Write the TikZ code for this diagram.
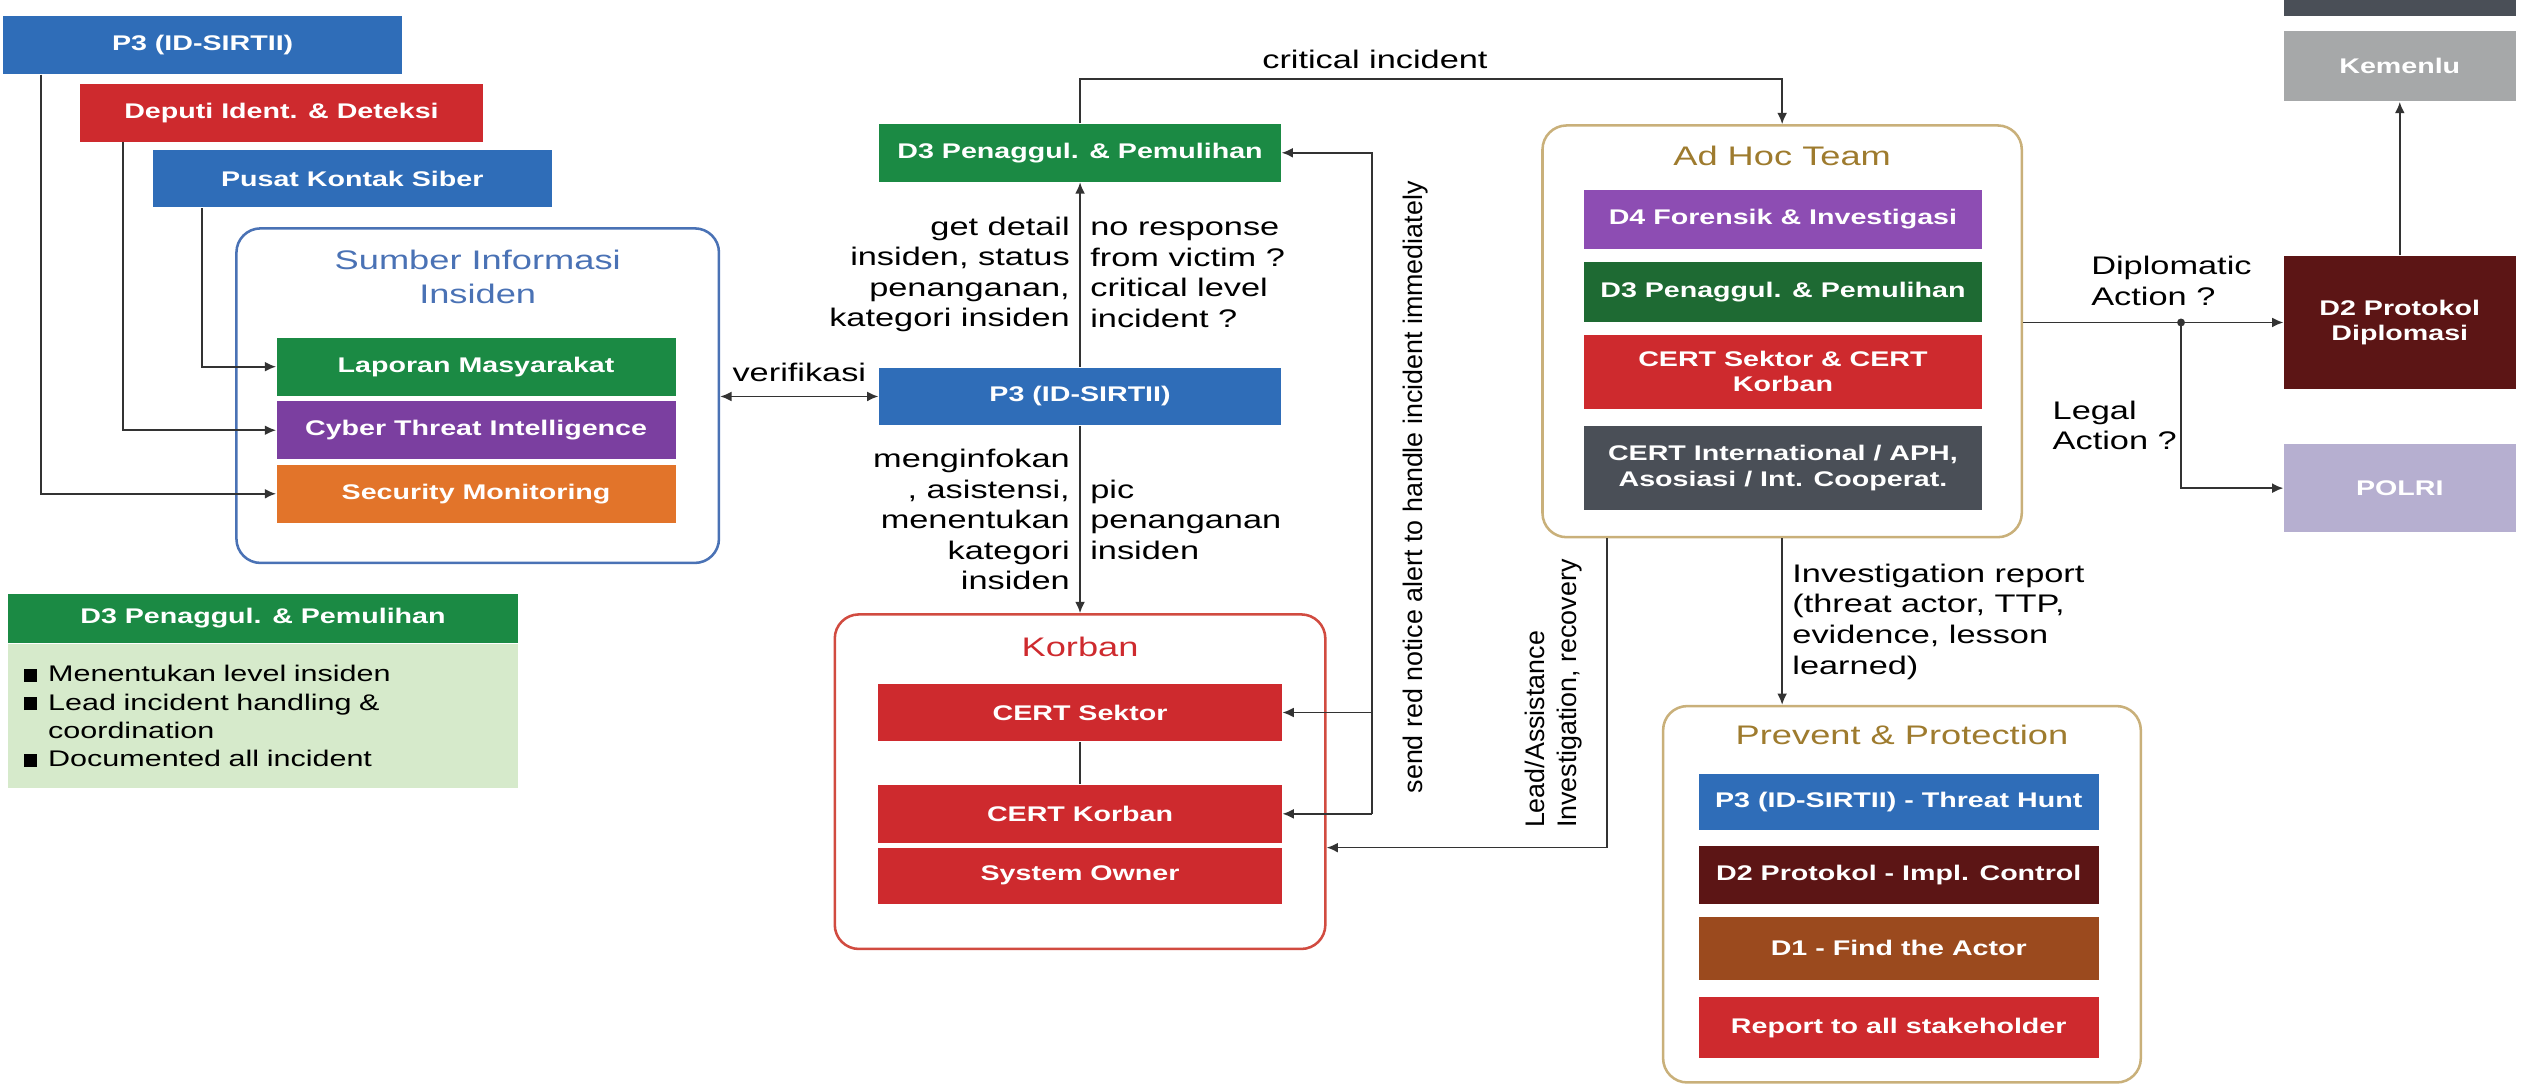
\documentclass[tikz,border=0pt]{standalone}
\usepackage{fontspec}
\setmainfont{Liberation Sans}[FakeStretch=1.35]
\newfontfamily\vertfont{Liberation Sans}
\usepackage{xcolor}
\usepackage{tikz}
\usetikzlibrary{arrows.meta,positioning}

\definecolor{ibiru}{HTML}{2F6DB8}
\definecolor{imerah}{HTML}{CE2A2E}
\definecolor{ihijau}{HTML}{1B8A44}
\definecolor{iungu}{HTML}{7B3FA0}
\definecolor{ioranye}{HTML}{E2742A}
\definecolor{iungumuda}{HTML}{8D4DB3}
\definecolor{ihijautua}{HTML}{1E6A33}
\definecolor{iabu}{HTML}{4A4F57}
\definecolor{imarun}{HTML}{5C1515}
\definecolor{icoklat}{HTML}{9B4A1E}
\definecolor{ilavender}{HTML}{B6AFD0}
\definecolor{iabumuda}{HTML}{A6A8A9}
\definecolor{ihijaupucat}{HTML}{D6EACB}
\definecolor{ibirugaris}{HTML}{4A72B5}
\definecolor{imerahgaris}{HTML}{D14B40}
\definecolor{iemas}{HTML}{C9B07A}
\definecolor{iemastua}{HTML}{9E7B2E}
\definecolor{igaris}{HTML}{333333}

\begin{document}
\begin{tikzpicture}[x=0.2mm, y=-0.2mm,
    box/.style = {fill=#1, text=white, font=\fontsize{7.5}{9}\selectfont\bfseries, align=center, inner sep=1pt},
    sz/.style 2 args = {minimum width=#1*0.2mm, minimum height=#2*0.2mm},
    group/.style = {draw=#1, rounded corners=3mm, line width=0.9pt},
    title/.style = {text=#1, font=\fontsize{9.5}{12}\selectfont, align=center},
    lbl/.style = {font=\fontsize{9}{10.8}\selectfont, text=black},
    vlbl/.style = {font=\vertfont\fontsize{9.5}{11.5}\selectfont, text=black},
    line/.style = {draw=igaris, line width=0.6pt},
    arr/.style = {line, -{Latex[length=4pt,width=3.5pt]}},
    arr2/.style = {line, {Latex[length=4pt,width=3.5pt]}-{Latex[length=4pt,width=3.5pt]}}]
    \useasboundingbox (0,0) rectangle (1568,677);
    \clip (0,0) rectangle (1568,677);

    % groups
    \node[group=ibirugaris, sz={300}{208}] (sumber) at (297,246) {};
    \node[group=imerahgaris, sz={305}{208}] (korban) at (671.5,486) {};
    \node[group=iemas, sz={298}{256}] (adhoc) at (1108,206) {};
    \node[group=iemas, sz={297}{234}] (prevent) at (1182.5,556) {};

    \node[title=ibirugaris] (sumberjudul) at (297,172) {Sumber Informasi\\Insiden};
    \node[title=imerah] (korbanjudul) at (671.5,402) {Korban};
    \node[title=iemastua] (adhocjudul) at (1108,97) {Ad Hoc Team};
    \node[title=iemastua] (prevjudul) at (1182.5,457) {Prevent \& Protection};

    % left column
    \node[box=ibiru, sz={248}{36}] (p3top) at (126,28) {P3 (ID-SIRTII)};
    \node[box=imerah, sz={250}{36}] (deputi) at (175,70) {Deputi Ident. \& Deteksi};
    \node[box=ibiru, sz={248}{36}] (pusat) at (219,111) {Pusat Kontak Siber};
    \node[box=ihijau, sz={248}{36}] (laporan) at (296,228) {Laporan Masyarakat};
    \node[box=iungu, sz={248}{36}] (cti) at (296,267.5) {Cyber Threat Intelligence};
    \node[box=ioranye, sz={248}{36}] (secmon) at (296,307) {Security Monitoring};

    % legend
    \node[box=ihijau, sz={317}{31}] (legenda) at (163.5,384.5) {D3 Penaggul. \& Pemulihan};
    \node[fill=ihijaupucat, anchor=north, minimum height=89*0.2mm, inner xsep=2mm,
          text width=59.4mm, align=left, font=\fontsize{8}{10}\selectfont] (legendaisi) at (legenda.south)
        {\rule{4.5pt}{4.5pt}\enspace Menentukan level insiden\\
         \rule{4.5pt}{4.5pt}\enspace Lead incident handling \&\\
         \hphantom{\rule{4.5pt}{4.5pt}\enspace}coordination\\
         \rule{4.5pt}{4.5pt}\enspace Documented all incident};

    % middle column
    \node[box=ihijau, sz={250}{36}] (d3mid) at (671.5,95) {D3 Penaggul. \& Pemulihan};
    \node[box=ibiru, sz={250}{36}] (p3mid) at (671.5,246.5) {P3 (ID-SIRTII)};
    \node[box=imerah, sz={251}{36}] (certsektor) at (671.5,443) {CERT Sektor};
    \node[box=imerah, sz={251}{36}] (certkorban) at (671.5,506) {CERT Korban};
    \node[box=imerah, sz={251}{35}] (sysowner) at (671.5,544.5) {System Owner};

    % ad hoc team
    \node[box=iungumuda, sz={247}{37}] (d4) at (1108.5,136.5) {D4 Forensik \& Investigasi};
    \node[box=ihijautua, sz={247}{37}] (d3adhoc) at (1108.5,181.5) {D3 Penaggul. \& Pemulihan};
    \node[box=imerah, sz={247}{46}] (certsk) at (1108.5,231) {CERT Sektor \& CERT\\Korban};
    \node[box=iabu, sz={247}{52}] (certint) at (1108.5,291) {CERT International / APH,\\Asosiasi / Int. Cooperat.};

    % right column
    \node[box=iabu, sz={144}{40}] (atas) at (1492,-10) {};
    \node[box=iabumuda, sz={144}{44}] (kemenlu) at (1492,41) {Kemenlu};
    \node[box=imarun, sz={144}{83}] (d2) at (1492,200.5) {D2 Protokol\\Diplomasi};
    \node[box=ilavender, sz={144}{55}] (polri) at (1492,303.5) {POLRI};

    % prevent & protection
    \node[box=ibiru, sz={249}{35}] (p3hunt) at (1180.5,498.5) {P3 (ID-SIRTII) - Threat Hunt};
    \node[box=imarun, sz={249}{36}] (d2impl) at (1180.5,544) {D2 Protokol - Impl. Control};
    \node[box=icoklat, sz={249}{39}] (d1) at (1180.5,589.5) {D1 - Find the Actor};
    \node[box=imerah, sz={249}{38}] (report) at (1180.5,639) {Report to all stakeholder};

    % connectors
    \draw[arr] ([xshift=4.8mm]p3top.south west) |- (secmon.west);
    \draw[arr] ([xshift=5.4mm]deputi.south west) |- (cti.west);
    \draw[arr] ([xshift=6.2mm]pusat.south west) |- (laporan.west);

    \draw[arr2] (sumber.east |- p3mid.west) -- node[lbl, above, yshift=0.6mm] (verif) {verifikasi} (p3mid.west);

    \draw[arr] (p3mid.north) -- node[lbl, left, align=right] (getdetail) {get detail\\insiden, status\\penanganan,\\kategori insiden}
        node[lbl, right, align=left] (norespon) {no response\\from victim ?\\critical level\\incident ?} (d3mid.south);
    \draw[arr] (p3mid.south) -- node[lbl, left, align=right] (infokan) {menginfokan\\, asistensi,\\menentukan\\kategori\\insiden}
        node[lbl, right, align=left] (pic) {pic\\penanganan\\insiden} (korban.north);

    \coordinate (kritis) at (671.5,49);
    \draw[arr] (d3mid.north) -- (kritis) -| node[lbl, pos=0.21, above] (kritislbl) {critical incident} (adhoc.north);

    \coordinate (alertx) at (853,300);
    \draw[arr] (alertx |- certkorban.east) |- (d3mid.east);
    \draw[arr] (alertx |- certkorban.east) -- (certkorban.east);
    \draw[arr] (alertx |- certsektor.east) -- (certsektor.east);
    \draw[line] (certsektor) -- (certkorban);
    \node[vlbl, rotate=90] (alertlbl) at (880,303) {send red notice alert to handle incident immediately};

    \draw[arr] ([xshift=8.2mm]adhoc.south west) |- ([yshift=-8.2mm]korban.east);
    \node[vlbl, rotate=90, anchor=west, align=left] (leadlbl) at (966,521) {Lead/Assistance\\Investigation, recovery};

    \draw[arr] (adhoc.south) -- node[lbl, right, align=left] (invlbl) {Investigation report\\(threat actor, TTP,\\evidence, lesson\\learned)} (adhoc.south |- prevent.north);

    \coordinate (cabang) at (1356,200.5);
    \draw[arr] (d2.west -| adhoc.east) -- (d2.west);
    \draw[arr] (cabang) |- (polri.west);
    \fill[igaris] (cabang) circle (1.4pt);
    \node[lbl, align=left, anchor=south west] (diplbl) at (1294,196) {Diplomatic\\Action ?};
    \node[lbl, align=left, anchor=north west] (legallbl) at (1270,243) {Legal\\Action ?};

    \draw[arr] (d2.north) -- (kemenlu.south);
\end{tikzpicture}
\end{document}
